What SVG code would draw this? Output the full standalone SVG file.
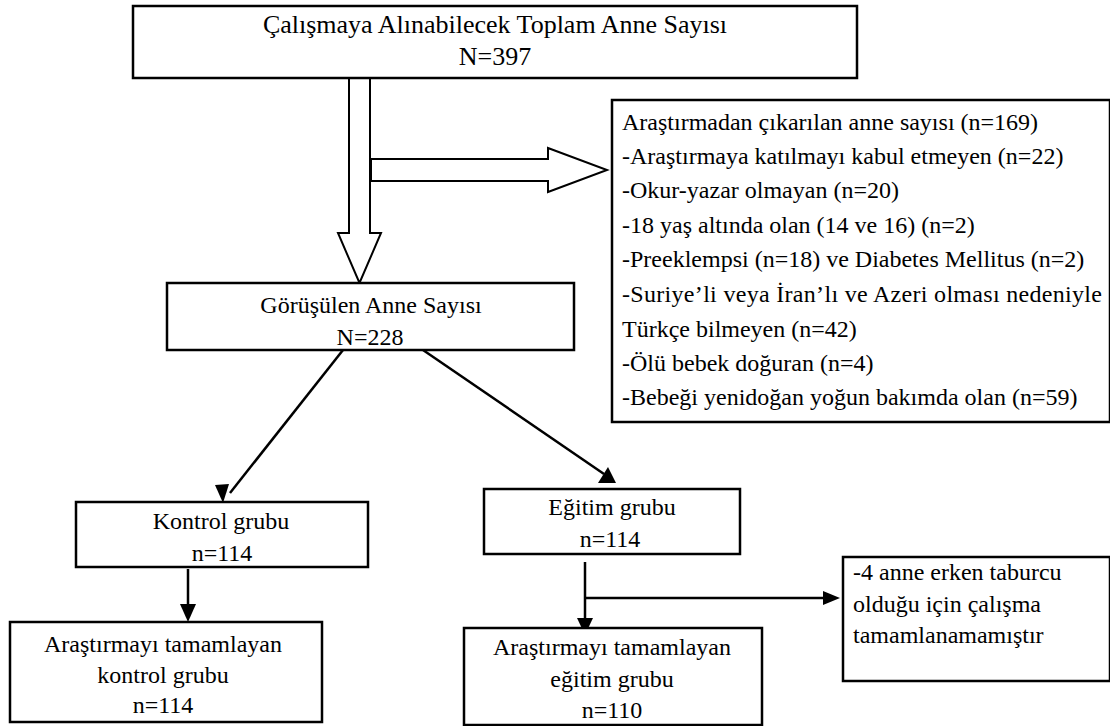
<svg xmlns="http://www.w3.org/2000/svg" width="1110" height="726" viewBox="0 0 1110 726">
<defs>
<style>
text{font-size:24px;fill:#000}
.t{font-size:26px}
.c{text-anchor:middle}
.box{fill:#fff;stroke:#000;stroke-width:2.5}
.ln{stroke:#000;stroke-width:2.5;fill:none}
.blk{fill:#fff;stroke:#000;stroke-width:2}
.hd{fill:#000}
</style>
</defs>
<g id="connectors">
<path class="blk" d="M349,78 L349,233 L338,233 L359.5,283 L381,233 L370,233 L370,78"/>
<path class="blk" d="M371,159 L548,159 L548,148 L607,170 L548,192 L548,181 L371,181 Z"/>
<line x1="343" y1="350" x2="230" y2="493" class="ln"/>
<path class="hd" d="M215,485 L223,503 L229,484 z"/>
<line x1="423" y1="350" x2="604" y2="474" class="ln"/>
<path class="hd" d="M598,483 L616,483 L608,467 z"/>
<line x1="188" y1="569" x2="188" y2="606" class="ln"/>
<path class="hd" d="M180,604 L188,622 L196,604 z"/>
<line x1="585" y1="562" x2="585" y2="620" class="ln"/>
<path class="hd" d="M577,618 L585,635 L593,618 z"/>
<line x1="585" y1="598" x2="825" y2="598" class="ln"/>
<path class="hd" d="M823,591 L840,598 L823,605 z"/>
</g>
<g font-family="Liberation Serif, Times New Roman, serif">
<g id="n1">
<rect x="133" y="6" width="724" height="72" class="box"/>
<text x="495" y="33" class="c t">Çalışmaya Alınabilecek Toplam Anne Sayısı</text>
<text x="495" y="65" class="c t">N=397</text>
</g>
<g id="n2">
<rect x="612" y="100" width="498" height="322" class="box"/>
<text x="622" y="130">Araştırmadan çıkarılan anne sayısı (n=169)</text>
<text x="622" y="164">-Araştırmaya katılmayı kabul etmeyen (n=22)</text>
<text x="622" y="198">-Okur-yazar olmayan (n=20)</text>
<text x="622" y="233">-18 yaş altında olan (14 ve 16) (n=2)</text>
<text x="622" y="267">-Preeklempsi (n=18) ve Diabetes Mellitus (n=2)</text>
<text x="622" y="302" textLength="480" lengthAdjust="spacing">-Suriye’li veya İran’lı ve Azeri olması nedeniyle</text>
<text x="622" y="337">Türkçe bilmeyen (n=42)</text>
<text x="622" y="371">-Ölü bebek doğuran (n=4)</text>
<text x="622" y="405">-Bebeği yenidoğan yoğun bakımda olan (n=59)</text>
</g>
<g id="n3">
<rect x="167" y="283" width="407" height="67" class="box"/>
<text x="371" y="313" class="c">Görüşülen Anne Sayısı</text>
<text x="370" y="345" class="c">N=228</text>
</g>
<g id="n4">
<rect x="76" y="502" width="292" height="65" class="box"/>
<text x="221" y="529" class="c">Kontrol grubu</text>
<text x="222" y="561" class="c">n=114</text>
</g>
<g id="n5">
<rect x="484" y="489" width="256" height="65" class="box"/>
<text x="612" y="515" class="c">Eğitim grubu</text>
<text x="610" y="547" class="c">n=114</text>
</g>
<g id="n6">
<rect x="10" y="622" width="312" height="100" class="box"/>
<text x="163" y="652" class="c">Araştırmayı tamamlayan</text>
<text x="163" y="683" class="c">kontrol grubu</text>
<text x="163" y="713" class="c">n=114</text>
</g>
<g id="n7">
<rect x="464" y="628" width="298" height="97" class="box"/>
<text x="612" y="655" class="c">Araştırmayı tamamlayan</text>
<text x="612" y="687" class="c">eğitim grubu</text>
<text x="612" y="718" class="c">n=110</text>
</g>
<g id="n8">
<rect x="843" y="557" width="267" height="124" class="box"/>
<text x="853" y="580">-4 anne erken taburcu</text>
<text x="853" y="612">olduğu için çalışma</text>
<text x="853" y="643">tamamlanamamıştır</text>
</g>
</g>
</svg>
